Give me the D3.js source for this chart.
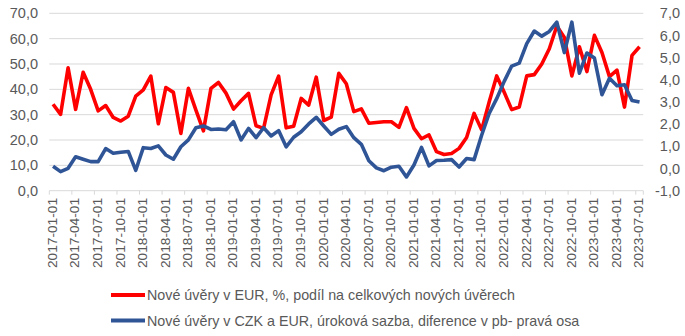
<!DOCTYPE html>
<html><head><meta charset="utf-8">
<script src="https://cdn.jsdelivr.net/npm/d3@7"></script>
<style>body{margin:0;background:#fff;} svg{display:block;font-family:"Liberation Sans",Arial,sans-serif;}</style>
</head><body><svg id="c" width="685" height="336"></svg>
<script>
const months = [];
for (let y = 2017; y <= 2023; y++) for (let m = 1; m <= 12; m++) {
  if (y === 2023 && m > 7) break;
  months.push(`${y}-${String(m).padStart(2,"0")}-01`);
}
const redSeries = [34.1,30.1,48.5,32.1,46.7,40.0,31.5,33.6,28.9,27.5,29.4,37.3,39.8,45.2,26.4,40.7,38.8,22.6,40.4,31.8,23.6,40.4,42.7,38.5,32.2,35.5,38.4,25.6,24.6,37.8,45.2,24.8,25.4,36.4,33.8,44.8,27.7,29.0,46.3,42.2,31.2,32.3,26.6,26.9,27.2,27.2,25.0,32.8,24.6,20.5,22.0,15.4,14.3,14.7,16.7,21.0,30.5,24.0,35.0,45.3,38.8,32.0,33.0,45.3,45.8,50.0,56.0,65.0,60.5,45.3,56.8,47.0,61.3,54.5,45.0,47.6,33.0,53.4,56.8];
const blueSeries = [0.1,-0.14,0.01,0.53,0.42,0.31,0.31,0.9,0.69,0.73,0.77,-0.08,0.94,0.9,1.02,0.61,0.42,0.98,1.29,1.84,1.92,1.76,1.78,1.75,2.11,1.29,1.81,1.39,1.84,1.47,1.71,0.98,1.41,1.66,2.01,2.31,1.92,1.54,1.77,1.89,1.39,1.09,0.35,0.03,-0.1,0.06,0.1,-0.38,0.16,0.95,0.12,0.36,0.37,0.4,0.07,0.45,0.4,1.5,2.48,3.15,3.93,4.62,4.75,5.63,6.2,5.97,6.18,6.6,5.23,6.6,4.3,5.21,4.98,3.33,4.07,3.73,3.78,3.07,3.0];
const leftTicks = [0,10,20,30,40,50,60,70];
const rightTicks = [-1,0,1,2,3,4,5,6,7];
const legendLabels = ["Nové úvěry v EUR, %, podíl na celkových nových úvěrech","Nové úvěry v CZK a EUR, úroková sazba, diference v pb- pravá osa"];
const colors = ["#ff0000","#2f5597"];

const svg = d3.select("#c");
const L = 49.3, R = 643.3, T = 13.3, B = 190.7;
const x = d3.scaleBand().domain(months).range([L, R]).paddingInner(0).paddingOuter(0);
const yL = d3.scaleLinear().domain([0,70]).range([B, T]);
const yR = d3.scaleLinear().domain([-1,7]).range([B, T]);
const grey = "#595959", grid = "#d9d9d9";

svg.append("g").selectAll("line").data(leftTicks.filter(d=>d>0)).join("line")
  .attr("x1", L).attr("x2", R).attr("y1", d=>yL(d)).attr("y2", d=>yL(d))
  .attr("stroke", grid).attr("stroke-width", 1);
svg.append("line").attr("x1", L).attr("x2", R).attr("y1", B).attr("y2", B).attr("stroke", grid);
const labelMonths = months.filter((d,i)=>i%3===0);
svg.append("g").selectAll("line").data(labelMonths.concat(["__end"])).join("line")
  .attr("x1", d=>d==="__end"?R:x(d)).attr("x2", d=>d==="__end"?R:x(d))
  .attr("y1", B).attr("y2", B+4).attr("stroke", grid);
svg.append("g").selectAll("text").data(labelMonths).join("text")
  .attr("transform", d=>`translate(${x(d)+x.bandwidth()/2-1},198) rotate(-90)`)
  .attr("text-anchor","end").attr("dy","0.35em")
  .attr("font-size", 13.7).attr("fill", grey).text(d=>d);
const fmt = d=>d3.format(".1f")(d).replace(".",",").replace("−","-");
svg.append("g").selectAll("text").data(leftTicks).join("text")
  .attr("x", 38).attr("y", d=>yL(d)).attr("dy","0.35em").attr("text-anchor","end")
  .attr("font-size", 14.5).attr("fill", grey).text(fmt);
svg.append("g").selectAll("text").data(rightTicks).join("text")
  .attr("x", 680).attr("y", d=>yR(d)).attr("dy","0.35em").attr("text-anchor","end")
  .attr("font-size", 14.5).attr("fill", grey).text(fmt);

const cx = d=>x(d)+x.bandwidth()/2;
const lineL = d3.line().x((d,i)=>cx(months[i])).y(d=>yL(d));
const lineR = d3.line().x((d,i)=>cx(months[i])).y(d=>yR(d));
svg.append("path").datum(redSeries).attr("d", lineL).attr("fill","none")
  .attr("stroke", colors[0]).attr("stroke-width", 3.6).attr("stroke-linejoin","round");
svg.append("path").datum(blueSeries).attr("d", lineR).attr("fill","none")
  .attr("stroke", colors[1]).attr("stroke-width", 3.6).attr("stroke-linejoin","round");

const lg = svg.append("g");
legendLabels.forEach((t,i)=>{
  const yy = 295 + i*25.5;
  lg.append("line").attr("x1",111).attr("x2",145).attr("y1",yy).attr("y2",yy)
    .attr("stroke", colors[i]).attr("stroke-width", 4);
  lg.append("text").attr("x",147).attr("y",yy).attr("dy","0.35em")
    .attr("font-size",14.3).attr("fill",grey).text(t);
});
</script></body></html>
